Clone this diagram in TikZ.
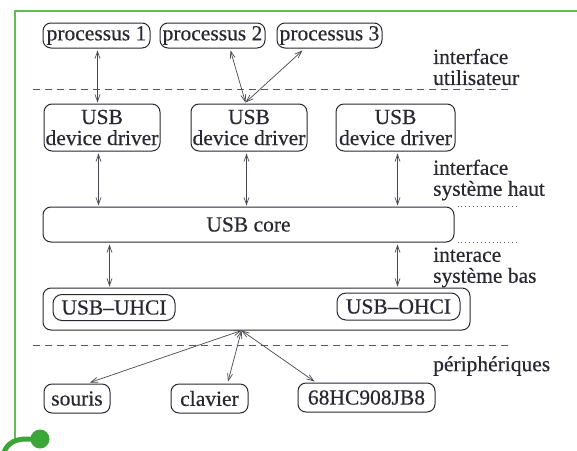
\documentclass[tikz,border=0pt]{standalone}
\usepackage{fontspec}
\setmainfont{Liberation Serif}[FakeBold=0.4]
\usetikzlibrary{arrows.meta,calc}
\definecolor{frameg}{RGB}{100,188,80}
\definecolor{hookg}{RGB}{60,165,55}
\definecolor{ink}{RGB}{40,40,50}
\definecolor{sep}{RGB}{85,85,110}
\begin{document}
\begin{tikzpicture}[x=1pt,y=-1pt,
  every node/.style={font=\fontsize{21.5}{21}\selectfont, text=ink},
  box/.style={draw=ink, line width=1pt, rounded corners=8pt, inner sep=0pt, align=center},
  lab/.style={anchor=west, align=left, inner sep=0pt},
  link/.style={draw=ink!85, line width=0.7pt, {Straight Barb[length=7pt,width=5pt]}-{Straight Barb[length=7pt,width=5pt]}},
  sepline/.style={draw=sep, line width=0.9pt, dash pattern=on 7pt off 5pt},
  dotline/.style={draw=sep, line width=0.9pt, dash pattern=on 0.9pt off 3pt}]
\useasboundingbox (0,0) rectangle (577,450);
\fill[white] (0,0) rectangle (577,450);
% green frame
\draw[frameg, line width=2.8pt] (577,11) -- (15,11) -- (15,442);
\draw[hookg, line width=5pt] (40,439) -- (26,439) .. controls (12,439) and (5,446) .. (3,456);
\fill[hookg] (40,439) circle (9.5);
% top row
\node[box, minimum width=107pt, minimum height=25pt] (p1) at (96.5,35.5) {processus 1};
\node[box, minimum width=105pt, minimum height=25pt] (p2) at (212.5,35.5) {processus 2};
\node[box, minimum width=105pt, minimum height=25pt] (p3) at (329.5,35.5) {processus 3};
% drivers
\node[box, minimum width=116pt, minimum height=47pt] (d1) at (102,127.5) {USB\\device driver};
\node[box, minimum width=116pt, minimum height=47pt] (d2) at (249,127.5) {USB\\device driver};
\node[box, minimum width=119pt, minimum height=47pt] (d3) at (395.5,127.5) {USB\\device driver};
% core
\node[box, minimum width=411pt, minimum height=35pt] (core) at (248.5,224.5) {USB core};
% bus
\node[box, minimum width=427pt, minimum height=42pt] (bus) at (256.5,309) {};
\node[box, rounded corners=9pt, minimum width=122pt, minimum height=26pt] (uhci) at (114,307.5) {USB\textendash UHCI};
\node[box, rounded corners=9pt, minimum width=123pt, minimum height=27pt] (ohci) at (398.5,306.5) {USB\textendash OHCI};
% peripherals
\node[box, minimum width=66pt, minimum height=29pt] (souris) at (77,398.5) {souris};
\node[box, minimum width=77pt, minimum height=29pt] (clavier) at (209.5,398.5) {clavier};
\node[box, minimum width=137pt, minimum height=29pt] (mc) at (366.5,397.5) {68HC908JB8};
% labels
\node[lab] (l1) at (433,67) {interface\\utilisateur};
\node[lab] (l2) at (433,180) {interface\\système haut};
\node[lab] (l3) at (433,267.5) {interace\\système bas};
\node[lab] (l4) at (433,366) {périphériques};
% separators
\coordinate (s1a) at (33,89);
\coordinate (s1b) at (510,89);
\coordinate (s2a) at (33,345);
\coordinate (s2b) at (510,345);
\draw[sepline] (s1a) -- (s1b);
\draw[sepline] (s2a) -- (s2b);
\draw[dotline] ($(core.north east)+(3,0)$) -- ($(core.north east)+(62,0)$);
\draw[dotline] ($(core.south east)+(3,0)$) -- ($(core.south east)+(62,0)$);
% links top
\draw[link] ($(p1.south west)+(55,2)$) -- ($(d1.north west)+(54,-1)$);
\coordinate (m2) at ($(d2.north west)+(55,-1)$);
\draw[link] ($(p2.south west)+(71,2)$) -- (m2);
\draw[link] ($(p3.south west)+(26,2)$) -- (m2);
% drivers to core
\draw[link] ($(d1.south west)+(55,2)$) -- ($(core.north west)+(56,-1)$);
\draw[link] ($(d2.south west)+(56,2)$) -- ($(core.north west)+(204,-1)$);
\draw[link] ($(d3.south west)+(62,2)$) -- ($(core.north west)+(355,-1)$);
% core to bus
\draw[link] ($(core.south west)+(67,2)$) -- ($(bus.north west)+(67,-1)$);
\draw[link] ($(core.south west)+(355,2)$) -- ($(bus.north west)+(355,-1)$);
% bus to peripherals
\coordinate (hub) at ($(bus.south west)+(199,0)$);
\draw[link] (hub) -- ($(souris.north)+(13,-1)$);
\draw[link] (hub) -- ($(clavier.north)+(18.5,-2)$);
\draw[link] (hub) -- ($(mc.north west)+(17,-1)$);
\end{tikzpicture}
\end{document}
